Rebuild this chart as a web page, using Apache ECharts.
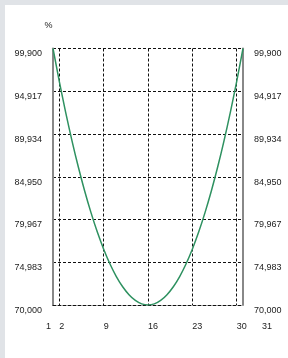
<!DOCTYPE html>
<html>
<head>
<meta charset="utf-8">
<script src="https://cdn.jsdelivr.net/npm/echarts@6/dist/echarts.min.js"></script>
<style>
  html, body { margin: 0; padding: 0; background: #e0e3e7; }
  #panel { position: absolute; left: 5px; top: 5px; width: 283px; height: 353px; background: #fff; }
  #main { position: absolute; left: 0; top: 0; width: 288px; height: 358px; }
</style>
</head>
<body>
<div id="panel"></div>
<div id="main"></div>
<script>
// days of the month (x axis)
var days = [1, 2, 3, 4, 5, 6, 7, 8, 9, 10, 11, 12, 13, 14, 15, 16,
            17, 18, 19, 20, 21, 22, 23, 24, 25, 26, 27, 28, 29, 30, 31];
// percent values
var values = [99.90, 96.05, 92.46, 89.14, 86.08, 83.29, 80.77, 78.50, 76.51, 74.78,
              73.32, 72.13, 71.20, 70.53, 70.13, 70.00, 70.13, 70.53, 71.20, 72.13,
              73.32, 74.78, 76.51, 78.50, 80.77, 83.29, 86.08, 89.14, 92.46, 96.05, 99.90];
var xLabelDays = [1, 2, 9, 16, 23, 30, 31];
var xGridDays = [2, 9, 16, 23, 30];
var yLabels = ['70,000', '74,983', '79,967', '84,950', '89,934', '94,917', '99,900'];
var yMin = 70, yMax = 99.9;
var yStep = (yMax - yMin) / (yLabels.length - 1);

var font = 'Liberation Sans, Arial, sans-serif';
var chart = echarts.init(document.getElementById('main'));

function yFmt(v) {
  var i = Math.round((v - yMin) / yStep);
  return yLabels[i] || '';
}

function yAxisCfg(pos) {
  return {
    type: 'value',
    position: pos,
    min: yMin,
    max: yMax,
    interval: yStep,
    name: pos === 'left' ? '%' : '',
    nameLocation: 'end',
    nameGap: 18,
    nameTextStyle: { color: '#222', fontSize: 9, fontFamily: font, padding: [0, 9, 0, 0] },
    axisLine: { show: true, lineStyle: { color: '#888', width: 2 } },
    axisTick: { show: false },
    axisLabel: {
      formatter: yFmt, color: '#222', fontSize: 9, fontFamily: font,
      margin: 11, verticalAlign: 'top', padding: [1, 0, 0, 0]
    },
    splitLine: pos === 'left'
      ? { show: true, lineStyle: { color: '#111', type: [3, 2], width: 1 } }
      : { show: false }
  };
}

chart.setOption({
  animation: false,
  grid: { left: 53, right: 45, top: 48.5, bottom: 53 },
  xAxis: {
    type: 'category',
    data: days,
    boundaryGap: false,
    axisLine: { show: true, lineStyle: { color: '#111', type: [3, 2], width: 1 } },
    axisTick: { show: false },
    axisLabel: {
      color: '#222', fontSize: 9, fontFamily: font, margin: 17, align: 'left',
      interval: function (i) { return xLabelDays.indexOf(days[i]) >= 0; },
      formatter: function (v) {
        v = +v;
        if (v === days[0]) return '{first|' + v + '}';
        if (v === days[days.length - 1]) return '{last|' + v + '}';
        return String(v);
      },
      rich: {
        first: { fontSize: 9, fontFamily: font, color: '#222', padding: [0, 0, 0, -7] },
        last: { fontSize: 9, fontFamily: font, color: '#222', padding: [0, 0, 0, 19] }
      }
    },
    splitLine: {
      show: true,
      interval: function (i) { return xGridDays.indexOf(days[i]) >= 0; },
      lineStyle: { color: '#111', type: [3, 2], width: 1 }
    }
  },
  yAxis: [yAxisCfg('left'), yAxisCfg('right')],
  series: [{
    type: 'line',
    data: values,
    showSymbol: false,
    smooth: 0.3,
    lineStyle: { color: '#2e9160', width: 1.5 }
  }]
});
</script>
</body>
</html>
